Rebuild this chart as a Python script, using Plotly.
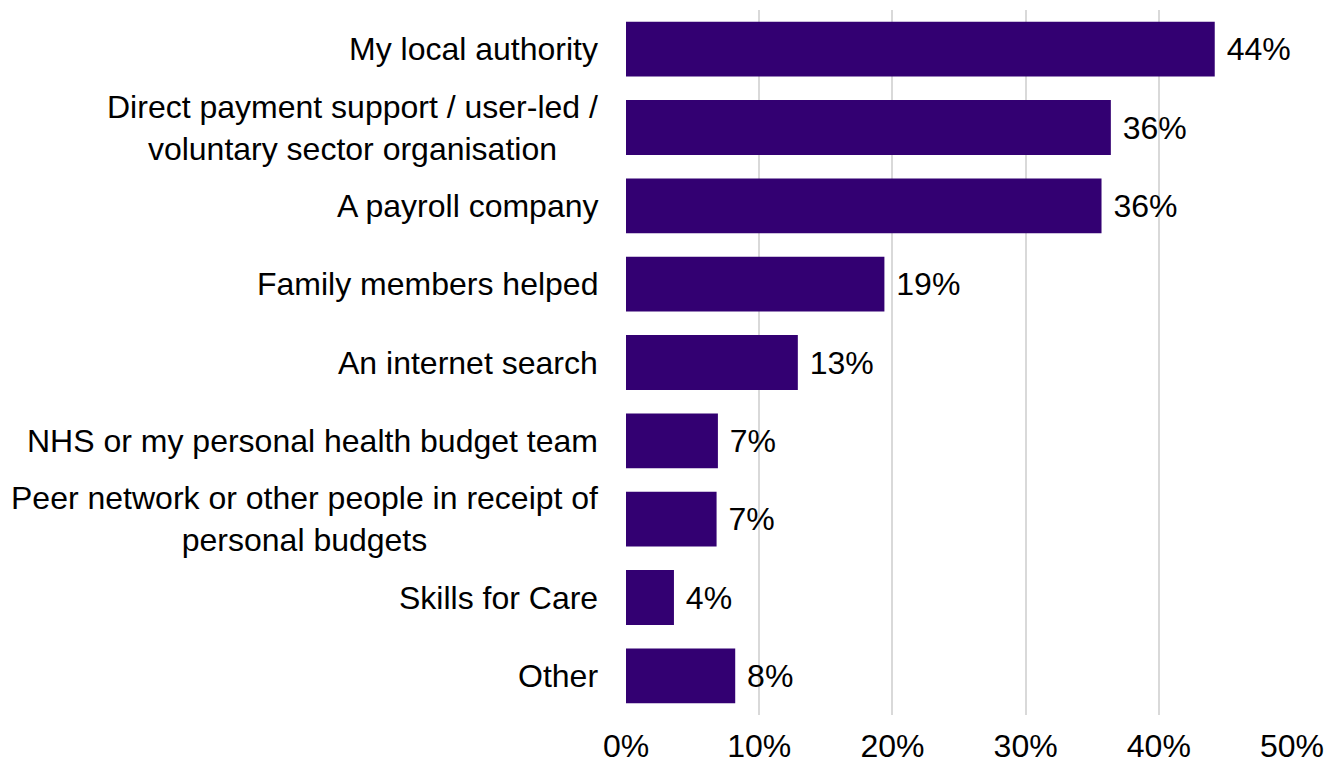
import plotly.graph_objects as go

# Where respondents got help (share of respondents)
categories = [
    "My local authority",
    "Direct payment support / user-led /<br>voluntary sector organisation",
    "A payroll company",
    "Family members helped",
    "An internet search",
    "NHS or my personal health budget team",
    "Peer network or other people in receipt of<br>personal budgets",
    "Skills for Care",
    "Other",
]
shares = [0.442, 0.364, 0.357, 0.194, 0.129, 0.069, 0.068, 0.036, 0.082]
x_ticks = [0, 0.1, 0.2, 0.3, 0.4, 0.5]

FONT = "Liberation Sans, Arial, sans-serif"
BAR_COLOR = "#330072"

positions = list(range(len(categories)))

fig = go.Figure(
    go.Bar(
        x=shares,
        y=positions,
        orientation="h",
        marker=dict(color=BAR_COLOR, line=dict(width=0)),
        texttemplate="\u00a0%{x:.0%}",
        textposition="outside",
        textfont=dict(family=FONT, size=32, color="black"),
        cliponaxis=False,
    )
)

# Category labels as annotations so wrapped lines sit centred on each other
for pos, label in zip(positions, categories):
    fig.add_annotation(
        x=0, xref="paper", y=pos, yref="y",
        text=label, showarrow=False,
        xanchor="right", yanchor="middle", align="center",
        xshift=-26,
        font=dict(family=FONT, size=32, color="black"),
    )

fig.update_layout(
    width=1326, height=765,
    margin=dict(l=626, r=34, t=10, b=50, autoexpand=False),
    paper_bgcolor="white", plot_bgcolor="white",
    bargap=0.30,
    showlegend=False,
    font=dict(family=FONT, size=32, color="black"),
)
fig.update_xaxes(
    range=[0, 0.5], tickvals=x_ticks, tickformat=".0%",
    showgrid=True, gridcolor="#d9d9d9", gridwidth=1.5,
    zeroline=False, showline=False, ticks="",
    ticklabelstandoff=9,
    tickfont=dict(family=FONT, size=32, color="black"),
    automargin=False,
)
fig.update_yaxes(
    range=[len(categories) - 0.5, -0.5],
    showticklabels=False, showgrid=False, zeroline=False, showline=False,
    automargin=False,
)

fig.write_html("out.html")
